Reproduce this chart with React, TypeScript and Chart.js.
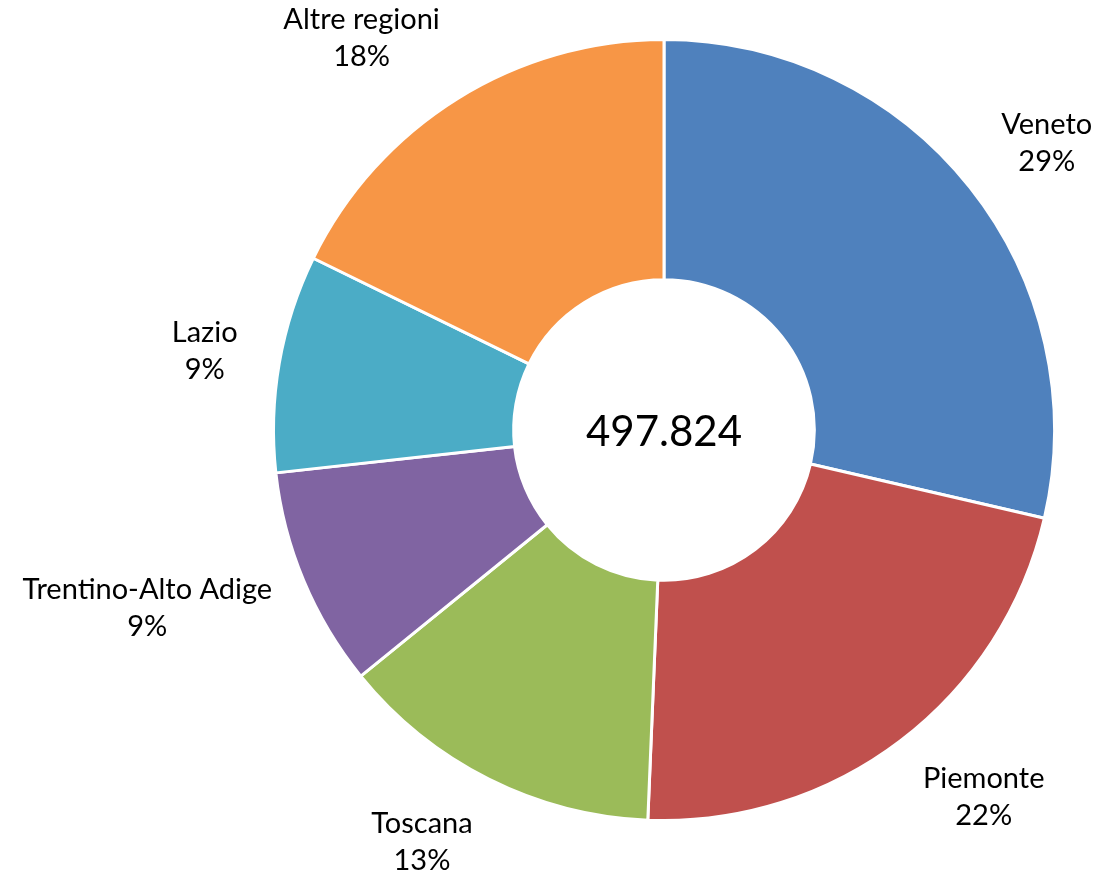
import React, { useEffect, useRef } from "react";
import { Chart, registerables } from "chart.js";

Chart.register(...registerables);

const regions = ["Veneto", "Piemonte", "Toscana", "Trentino-Alto Adige", "Lazio", "Altre regioni"];
const values = [142500, 109700, 67150, 45300, 44800, 88374];
const colors = ["#4F81BD", "#C0504D", "#9BBB59", "#8064A2", "#4BACC6", "#F79646"];

const FONT = "Lato, 'Liberation Sans', sans-serif";

function formatIt(n: number): string {
  return String(Math.round(n)).replace(/\B(?=(\d{3})+(?!\d))/g, ".");
}

const labelPlugin = {
  id: "doughnutLabels",
  afterDraw(chart: any) {
    const ctx = chart.ctx;
    const meta = chart.getDatasetMeta(0);
    const data = chart.data.datasets[0].data as number[];
    const total = data.reduce((a, b) => a + b, 0);
    const labels = chart.data.labels as string[];
    ctx.save();
    ctx.fillStyle = "#000000";
    ctx.textAlign = "center";
    ctx.textBaseline = "middle";
    const fs = 29;
    const lh = 37;
    ctx.font = `${fs}px ${FONT}`;
    meta.data.forEach((arc: any, i: number) => {
      const { x, y, startAngle, endAngle, outerRadius } = arc.getProps(
        ["x", "y", "startAngle", "endAngle", "outerRadius"],
        true
      );
      const mid = (startAngle + endAngle) / 2;
      const ux = Math.cos(mid);
      const uy = Math.sin(mid);
      const gap = 45;
      const px = x + (outerRadius + gap) * ux;
      const py = y + (outerRadius + gap) * uy;
      const lines = [labels[i], Math.round((data[i] / total) * 100) + "%"];
      const w = Math.max(...lines.map((l) => ctx.measureText(l).width));
      const h = lines.length * lh;
      const cx = px + Math.sign(ux) * (w / 2) * 0.92;
      const cy = py + uy * (h / 2) * 0.7;
      lines.forEach((l, k) => {
        ctx.fillText(l, cx, cy + (k - (lines.length - 1) / 2) * lh);
      });
    });
    const first = meta.data[0];
    if (first) {
      ctx.font = `42px ${FONT}`;
      ctx.fillText(formatIt(total), first.x, first.y + 2);
    }
    ctx.restore();
  },
};

export default function App() {
  const ref = useRef<HTMLCanvasElement | null>(null);
  useEffect(() => {
    if (!ref.current) return;
    const chart = new Chart(ref.current, {
      type: "doughnut",
      data: {
        labels: regions,
        datasets: [
          {
            data: values,
            backgroundColor: colors,
            borderColor: "#ffffff",
            borderWidth: 3,
          },
        ],
      },
      options: {
        responsive: false,
        animation: false,
        cutout: "38.5%",
        layout: { padding: { left: 272, right: 39, top: 38, bottom: 53 } },
        plugins: {
          legend: { display: false },
          tooltip: { enabled: false },
        },
      },
      plugins: [labelPlugin],
    });
    return () => chart.destroy();
  }, []);
  return (
    <div style={{ position: "absolute", left: 0, top: 0, width: 1095, height: 875, background: "#fff" }}>
      <canvas ref={ref} width={1095} height={875} style={{ width: 1095, height: 875 }} />
    </div>
  );
}
